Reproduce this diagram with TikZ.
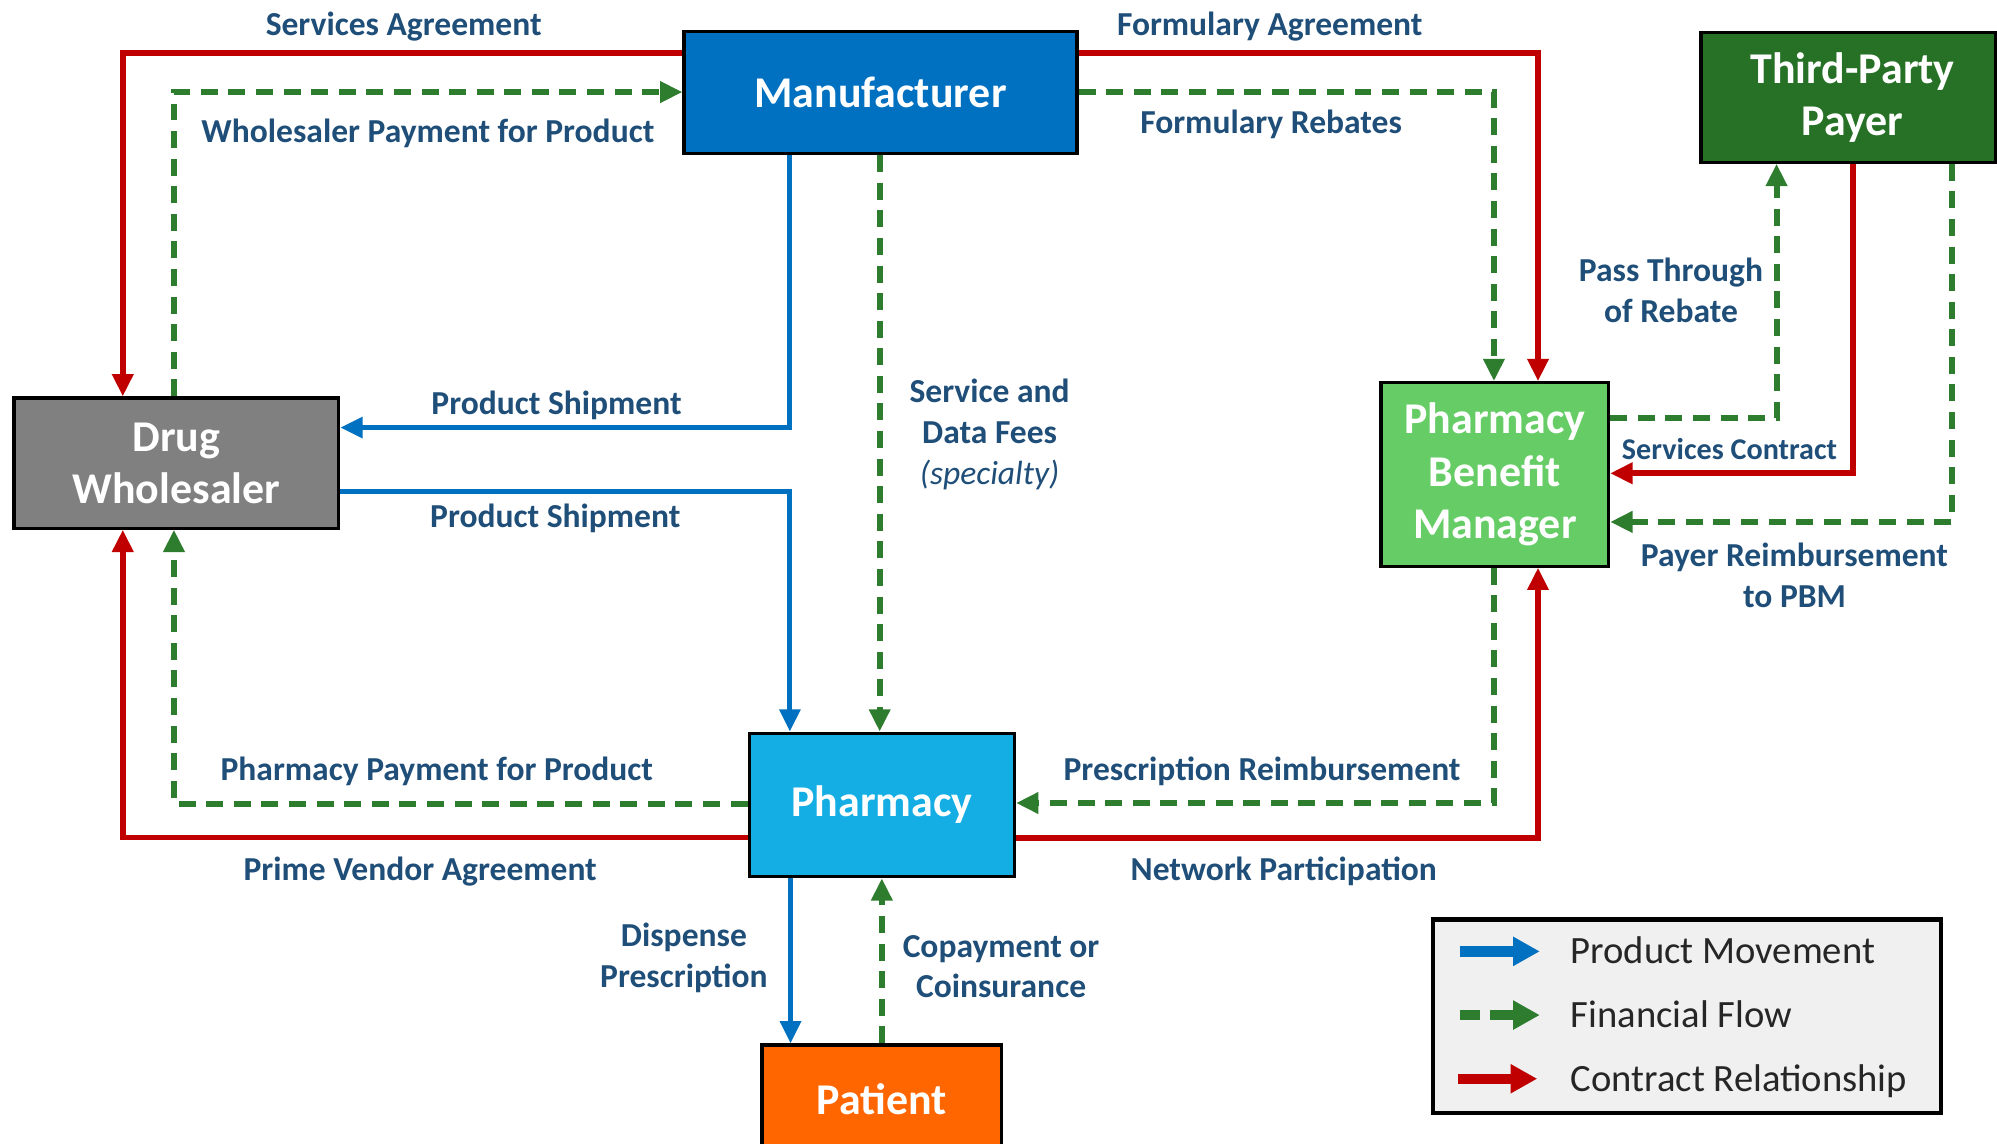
\documentclass[tikz,border=0pt]{standalone}
\usepackage{fontspec}
\setmainfont{Carlito}
\usetikzlibrary{arrows.meta}
\definecolor{cman}{HTML}{0070C0}
\definecolor{cdw}{HTML}{808080}
\definecolor{ctpp}{HTML}{277127}
\definecolor{cpbm}{HTML}{66CC66}
\definecolor{cph}{HTML}{14AEE4}
\definecolor{cpat}{HTML}{FF6600}
\definecolor{cred}{HTML}{C00000}
\definecolor{cgreen}{HTML}{2E7D2E}
\definecolor{cblue}{HTML}{0070C0}
\definecolor{clabel}{HTML}{1F4E79}
\definecolor{clegtext}{HTML}{262626}
\definecolor{clegbg}{HTML}{F0F0F0}
\tikzset{
  entity/.style={draw=black, line width=1.5pt, inner sep=0pt, text=white,
    font=\fontsize{20.7}{24.6}\selectfont\bfseries, align=center},
  lbl/.style={text=clabel, font=\fontsize{15.8}{19.2}\selectfont\bfseries, align=center, inner sep=0pt},
  legtext/.style={text=clegtext, font=\fontsize{18.2}{21}\selectfont, inner sep=0pt},
  arrowtip/.style={-{Triangle[length=10.5pt,width=9.6pt]}},
  contract/.style={draw=cred, line width=2.8pt, line join=miter, arrowtip},
  finance/.style={draw=cgreen, line width=2.8pt, line join=miter, dash pattern=on 8pt off 5pt, arrowtip},
  product/.style={draw=cblue, line width=2.4pt, line join=miter, arrowtip},
  legarrow/.style={line width=4.9pt, -{Triangle[length=12.6pt,width=13pt]}},
}
\begin{document}
\begin{tikzpicture}[x=0.6pt,y=-0.6pt]
\useasboundingbox (0,0) rectangle (1568,898);
% entities
\node[entity, fill=cman, minimum width=185.1pt, minimum height=57.5pt] (man) at (691.35,72.65) {Manufacturer};
\node[entity, fill=cdw, minimum width=153pt, minimum height=61.3pt] (dw) at (138.5,363.6) {Drug\\Wholesaler};
\node[entity, fill=ctpp, minimum width=138.8pt, minimum height=61.1pt] (tpp) at (1451.3,76.4) {\hspace*{4pt}Third-Party\\\hspace*{4pt}Payer};
\node[entity, fill=cpbm, minimum width=107.2pt, minimum height=86.4pt] (pbm) at (1173.7,372.5) {Pharmacy\\Benefit\\Manager};
\node[entity, fill=cph, minimum width=125pt, minimum height=67.6pt] (ph) at (692.35,632) {Pharmacy};
\node[entity, fill=cpat, minimum width=113pt, minimum height=50.7pt] (pat) at (692.4,862.75) {Patient};
% connectors
\draw[contract] (man.west |- 0,41.5) -| (dw.north -| 96.4,0);
\draw[finance] (dw.north -| 136.6,0) |- (man.west |- 0,72.3);
\draw[product] (man.south -| 620.2,0) |- (dw.east |- 0,335.7);
\draw[product] (dw.east |- 0,386.1) -| (ph.north -| 620.2,0);
\draw[finance] (man.south -| 690.7,0) -- (ph.north -| 690.7,0);
\draw[contract] (man.east |- 0,41.5) -| (pbm.north -| 1207.6,0);
\draw[finance] (man.east |- 0,72.3) -| (pbm.north -| 1173,0);
\draw[finance] (pbm.east |- 0,328.2) -| (tpp.south -| 1394.9,0);
\draw[contract] (tpp.south -| 1455,0) |- (pbm.east |- 0,371.6);
\draw[finance] (tpp.south -| 1532.4,0) |- (pbm.east |- 0,409.8);
\draw[finance] (pbm.south -| 1173,0) |- (ph.east |- 0,630.5);
\draw[contract] (ph.east |- 0,658) -| (pbm.south -| 1207.6,0);
\draw[finance] (ph.west |- 0,631) -| (dw.south -| 136.6,0);
\draw[contract] (ph.west |- 0,657.6) -| (dw.south -| 96.4,0);
\draw[product] (ph.south -| 620.7,0) -- (pat.north -| 620.7,0);
\draw[finance] (pat.north -| 692.4,0) -- (ph.south -| 692.4,0);
% labels
\node[lbl, anchor=base] (l1) at (317,27.5) {Services Agreement};
\node[lbl, anchor=base] (l2) at (997,27.5) {Formulary Agreement};
\node[lbl, anchor=base] (l3) at (336,111.5) {Wholesaler Payment for Product};
\node[lbl, anchor=base] (l4) at (998,104.5) {Formulary Rebates};
\node[lbl, anchor=base] (l5) at (437,325.5) {Product Shipment};
\node[lbl, anchor=base] (l6) at (436,414.5) {Product Shipment};
\node[lbl, anchor=base, font=\fontsize{14.2}{17}\selectfont\bfseries] (l7) at (1358,360.6) {Services Contract};
\node[lbl, anchor=base] (l8) at (991,612.5) {Prescription Reimbursement};
\node[lbl, anchor=base] (l9) at (1008,691.5) {Network Participation};
\node[lbl, anchor=base] (l10) at (343,612.5) {Pharmacy Payment for Product};
\node[lbl, anchor=base] (l11) at (330,691.5) {Prime Vendor Agreement};
\node[lbl] (l12) at (777,341) {Service and\\Data Fees\\{\mdseries\itshape (specialty)}};
\node[lbl] (l13) at (1312,228) {Pass Through\\of Rebate};
\node[lbl] (l14) at (1409,452) {Payer Reimbursement\\to PBM};
\node[lbl] (l15) at (537,752) {Dispense\\Prescription};
\node[lbl] (l16) at (786,759) {Copayment or\\Coinsurance};
% legend
\node[draw=black, line width=2pt, fill=clegbg, minimum width=239.4pt, minimum height=91.2pt, inner sep=0pt] (leg) at (1324.5,798) {};
\coordinate (b1) at (1146,747); \coordinate (b2) at (1209,747);
\coordinate (g0) at (1146,797); \coordinate (g1) at (1162,797);
\coordinate (g2) at (1170,797); \coordinate (g3) at (1209,797);
\coordinate (r1) at (1145,847); \coordinate (r2) at (1207,847);
\draw[legarrow, draw=cblue, fill=cblue] (b1) -- (b2);
\draw[line width=4.9pt, draw=cgreen] (g0) -- (g1);
\draw[legarrow, draw=cgreen, fill=cgreen] (g2) -- (g3);
\draw[legarrow, draw=cred, fill=cred] (r1) -- (r2);
\node[legtext, anchor=base west] (lt1) at (1233,756.7) {Product Movement};
\node[legtext, anchor=base west] (lt2) at (1233,806.7) {Financial Flow};
\node[legtext, anchor=base west] (lt3) at (1233,856.7) {Contract Relationship};
\end{tikzpicture}
\end{document}
